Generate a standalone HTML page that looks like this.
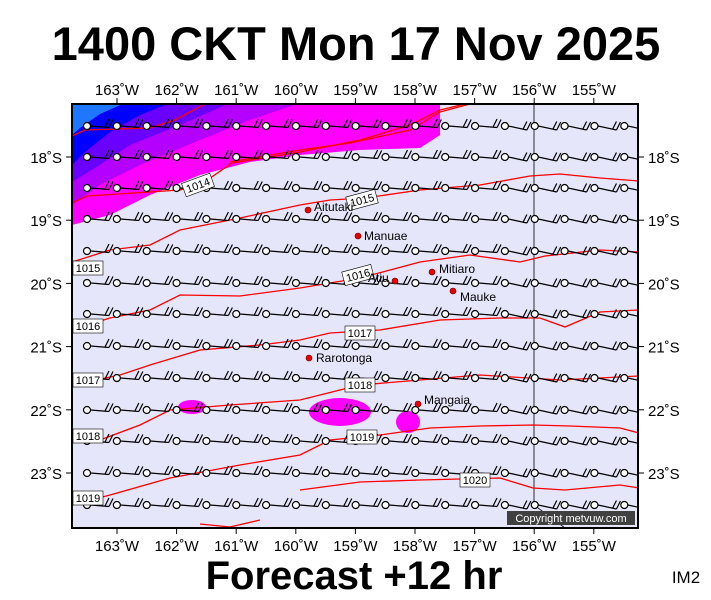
<!DOCTYPE html>
<html><head><meta charset="utf-8"><style>
html,body{margin:0;padding:0;background:#fff;width:711px;height:600px;overflow:hidden}
svg text{font-family:"Liberation Sans",sans-serif}
</style></head><body>
<svg id="s" width="711" height="600" xmlns="http://www.w3.org/2000/svg">
<text x="356" y="60" font-size="47" font-weight="bold" text-anchor="middle">1400 CKT Mon 17 Nov 2025</text>
<text x="354" y="589" font-size="40" font-weight="bold" text-anchor="middle">Forecast +12 hr</text>
<text x="686" y="583" font-size="17" text-anchor="middle">IM2</text>
<defs><clipPath id="c"><rect x="72" y="104" width="566" height="424"/></clipPath></defs>
<rect x="72" y="104" width="566" height="424" fill="#e6e6fa"/>
<g clip-path="url(#c)">
<polygon fill="#ff00ff" points="72,103 440,103 440,135 420,148 360,150 300,155 250,162 200,175 150,195 110,215 72,225"/>
<polygon fill="#b400ff" points="72,103 300,103 250,120 200,140 140,165 100,185 72,205"/>
<polygon fill="#6a00ff" points="72,103 230,103 180,125 130,145 95,168 72,182"/>
<polygon fill="#0000ff" points="72,103 170,103 140,115 110,132 85,152 72,165"/>
<polygon fill="#1e78ff" points="72,103 125,103 100,114 80,128 72,135"/>
<ellipse cx="192" cy="407" rx="14" ry="7" fill="#ff00ff"/>
<ellipse cx="340" cy="412" rx="31" ry="14" fill="#ff00ff"/>
<ellipse cx="408" cy="422" rx="12" ry="11" fill="#ff00ff"/>
<line x1="534" y1="104" x2="534" y2="505" stroke="#000" stroke-width="0.8"/>
<line x1="534" y1="505" x2="565" y2="528" stroke="#000" stroke-width="0.8"/>
<g fill="none" stroke="#f00" stroke-width="1.3">
<polyline points="72,136 85,130 150,128 175,120 205,104"/>
<polyline points="230,162 300,150 350,143 410,130 440,112 470,104 639,100"/>
<polyline points="72,203 87,196 180,190 200,185 232,163 300,152 360,140 410,125 440,110 465,104"/>
<polyline points="72,262 110,250 150,245 180,230 240,218 300,205 330,200 365,198 420,190 480,185 530,176 560,174 600,178 639,181"/>
<polyline points="72,330 110,318 150,310 180,295 240,296 300,288 360,278 420,262 470,255 520,262 545,256 600,250 639,252"/>
<polyline points="72,385 120,375 150,365 200,350 260,345 300,340 330,333 380,330 440,320 500,318 540,318 565,327 600,312 639,310"/>
<polyline points="72,440 100,440 140,425 170,410 230,405 300,400 360,385 420,380 480,375 560,380 600,378 639,376"/>
<polyline points="72,505 110,495 170,478 240,465 300,455 330,440 380,435 430,428 480,426 533,425 570,426 620,428 639,433"/>
<polyline points="300,490 360,482 420,480 500,478 533,488 565,490 620,485 639,488"/>
<polyline points="200,524 230,527 260,520"/>
</g>
<g id="barbs"></g>
</g>
<rect x="72" y="104" width="566" height="424" fill="none" stroke="#000" stroke-width="2"/>
<g id="lab" font-size="11"></g>
<g id="ax" font-size="15"></g>
<g font-size="12">
<circle cx="308" cy="210" r="3" fill="#e00" stroke="#600" stroke-width=".6"/><text x="314" y="211">Aitutaki</text>
<circle cx="358" cy="236" r="3" fill="#e00" stroke="#600" stroke-width=".6"/><text x="364" y="240">Manuae</text>
<circle cx="432" cy="272" r="3" fill="#e00" stroke="#600" stroke-width=".6"/><text x="439" y="273">Mitiaro</text>
<circle cx="395" cy="281" r="3" fill="#e00" stroke="#600" stroke-width=".6"/><text x="368" y="282">Atiu</text>
<circle cx="453" cy="291" r="3" fill="#e00" stroke="#600" stroke-width=".6"/><text x="460" y="301">Mauke</text>
<circle cx="309" cy="358" r="3" fill="#e00" stroke="#600" stroke-width=".6"/><text x="316" y="362">Rarotonga</text>
<circle cx="418" cy="404" r="3" fill="#e00" stroke="#600" stroke-width=".6"/><text x="424" y="404">Mangaia</text>
</g>
<rect x="507" y="511" width="128" height="14" fill="#404040"/>
<text x="571" y="522" font-size="11" fill="#fff" text-anchor="middle">Copyright metvuw.com</text>
</svg>
<script>
var b=document.getElementById("barbs"),h="";
var rows=[126,157,188,219,251,283,314,346,378,410,441,473,505];
rows.forEach(function(y,ri){for(var i=0;i<19;i++){var x=87+i*29.85;var d=(i>13?4:1.5);
h+='<path d="M'+(x+3.5)+','+y+' L'+(x+22)+','+(y+d)+' M'+(x+22)+','+(y+d)+' L'+(x+26)+','+(y+d-8)+' M'+(x+18)+','+(y+d-0.5)+' L'+(x+22)+','+(y+d-8.5)+'" stroke="#000" stroke-width="1.2" fill="none"/>';
h+='<circle cx="'+x+'" cy="'+y+'" r="3.5" fill="#fff" stroke="#000" stroke-width="1.2"/>';}});
b.innerHTML=h;
var L=[["1014",198,185,-20],["1015",362,200,-15],["1015",88,268,0],["1016",358,275,-15],["1016",88,326,0],["1017",360,333,0],["1017",88,380,0],["1018",360,385,0],["1018",88,436,0],["1019",362,437,0],["1019",88,498,0],["1020",475,480,0]];
var lh="";L.forEach(function(l){lh+='<g transform="translate('+l[1]+','+l[2]+') rotate('+l[3]+')"><rect x="-15" y="-7" width="30" height="14" fill="#fff" stroke="#000" stroke-width=".6"/><text x="0" y="4" text-anchor="middle">'+l[0]+'</text></g>';});
document.getElementById("lab").innerHTML=lh;
var a="";var lons=[163,162,161,160,159,158,157,156,155];
lons.forEach(function(v,i){var x=117+i*59.6;a+='<text x="'+x+'" y="95" text-anchor="middle">'+v+'˚W</text><text x="'+x+'" y="551" text-anchor="middle">'+v+'˚W</text><line x1="'+x+'" y1="98" x2="'+x+'" y2="104" stroke="#000"/><line x1="'+x+'" y1="528" x2="'+x+'" y2="534" stroke="#000"/>';});
for(var j=0;j<6;j++){var y=157+j*63.2;a+='<text x="62" y="'+(y+6)+'" text-anchor="end">'+(18+j)+'˚S</text><text x="648" y="'+(y+6)+'">'+(18+j)+'˚S</text><line x1="66" y1="'+y+'" x2="72" y2="'+y+'" stroke="#000"/><line x1="638" y1="'+y+'" x2="644" y2="'+y+'" stroke="#000"/>';}
document.getElementById("ax").innerHTML=a;
</script>
</body></html>
